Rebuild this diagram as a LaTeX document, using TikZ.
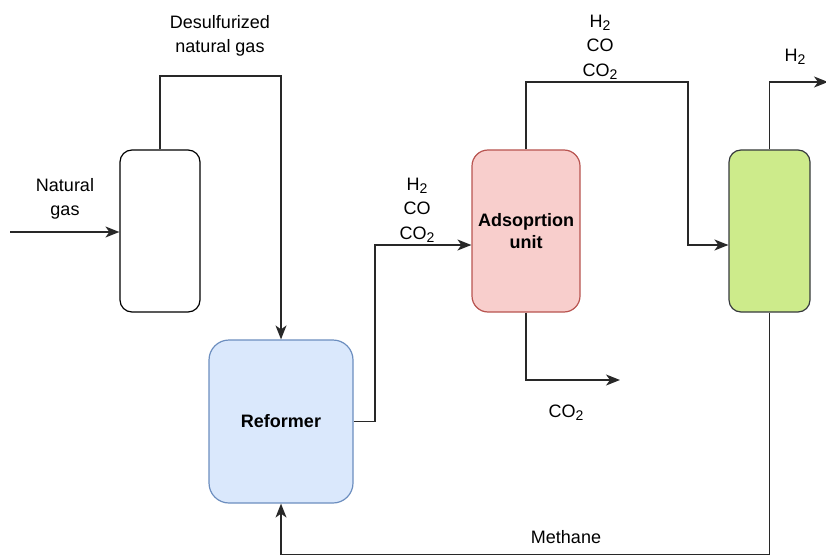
\documentclass[tikz,border=0pt]{standalone}
\usepackage{fontspec}
\setmainfont{Liberation Sans}
\usetikzlibrary{arrows.meta}
\definecolor{refFill}{HTML}{DAE8FC}
\definecolor{refLine}{HTML}{6C8EBF}
\definecolor{adsFill}{HTML}{F8CECC}
\definecolor{adsLine}{HTML}{B85450}
\definecolor{grnFill}{HTML}{CDEB8B}
\definecolor{grnLine}{HTML}{36393D}
\newcommand{\subtwo}{\raisebox{-0.3ex}{\fontsize{14}{14}\selectfont 2}}
\tikzset{
  unit/.style={draw, line width=1.2pt, inner sep=0pt, align=center, font=\bfseries\fontsize{18}{22}\selectfont},
  lbl/.style={align=center, inner sep=0pt, font=\fontsize{18}{24.5}\selectfont},
  pipe/.style={line width=1.4pt, draw={rgb,255:red,40;green,40;blue,40}},
  arr/.style={pipe, -{Stealth[length=14pt,width=11pt,inset=4pt]}},
}
\begin{document}
\begin{tikzpicture}[x=1pt,y=-1pt]
\useasboundingbox (0,0) rectangle (826,556);
\node[unit, rounded corners=12pt, minimum width=80pt, minimum height=162pt] (desulf) at (160,231) {};
\node[unit, rounded corners=20pt, fill=refFill, draw=refLine, minimum width=144pt, minimum height=163pt] (ref) at (281,421.5) {Reformer};
\node[unit, rounded corners=16pt, fill=adsFill, draw=adsLine, minimum width=108pt, minimum height=162pt] (ads) at (526,231) {Adsoprtion\\unit};
\node[unit, rounded corners=12pt, fill=grnFill, draw=grnLine, minimum width=81pt, minimum height=162pt] (grn) at (769.5,231) {};

\node[lbl] (lng) at (65,199) {Natural\\gas};
\node[lbl] (ldes) at (220,36) {Desulfurized\\natural gas};
\node[lbl] (lmix1) at (417,210) {H\subtwo\\CO\\CO\subtwo};
\node[lbl] (lmix2) at (600,47) {H\subtwo\\CO\\CO\subtwo};
\node[lbl] (lco2) at (566,413) {CO\subtwo};
\node[lbl] (lh2) at (795,57) {H\subtwo};
\node[lbl] (lmeth) at (566,537) {Methane};

\coordinate (ngin) at (10,232);
\coordinate (c1) at (281,76);
\coordinate (c2) at (375,245);
\coordinate (c3) at (688,82);
\coordinate (c4) at (688,245);
\coordinate (co2out) at (620,380);
\coordinate (h2out) at (828,82);
\coordinate (c5) at (769.5,554.5);

\draw[arr] (ngin) -- (desulf.west |- ngin);
\draw[arr] (desulf.north) |- (c1) -- (ref.north);
\draw[arr] (ref.east) -| (c2) -- (ads.west |- c2);
\draw[arr] (ads.north) |- (c3) -- (c4) -- (grn.west |- c4);
\draw[arr] (ads.south) |- (co2out);
\draw[arr] (grn.north) |- (h2out);
\draw[arr] (grn.south) -- (c5) -- (ref.south |- c5) -- (ref.south);
\end{tikzpicture}
\end{document}
